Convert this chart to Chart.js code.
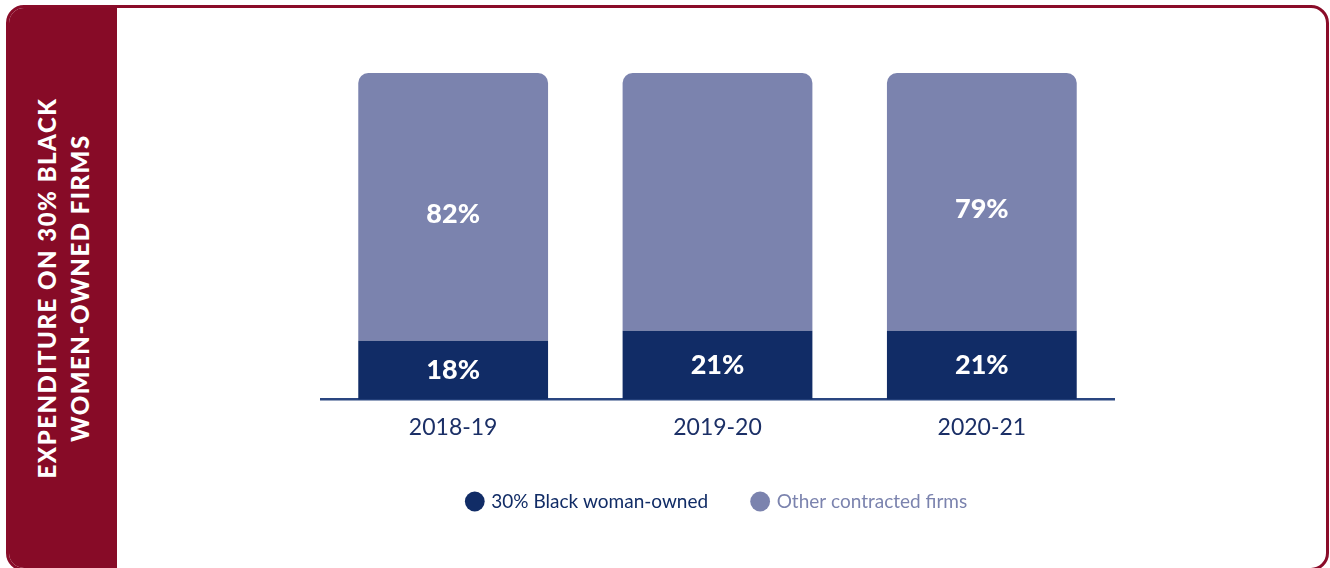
<!DOCTYPE html>
<html>
<head>
<meta charset="utf-8">
<script src="https://cdn.jsdelivr.net/npm/chart.js@4"></script>
<style>
    body { margin: 0; background: #fff; font-family: Lato, sans-serif; }
    #card {
        position: absolute; left: 6px; top: 5px; width: 1317px; height: 560px;
        border: 3px solid #8a0c29; border-radius: 18px; overflow: hidden; background: #fff;
    }
    #side {
        position: absolute; left: 0; top: 0; width: 108px; height: 100%; background: #870b27;
    }
    #side div {
        position: absolute; left: 50%; top: 50%; width: 500px;
        transform: translate(-50%, -50%) rotate(-90deg);
        color: #fff; font-weight: 900; font-size: 24px; line-height: 33px;
        letter-spacing: 1.5px; text-align: center;
    }
    #wrap { position: absolute; left: 0; top: 0; width: 1330px; height: 568px; }
</style>
</head>
<body>
<div id="card"><div id="side"><div>EXPENDITURE ON 30% BLACK<br>WOMEN-OWNED FIRMS</div></div></div>
<div id="wrap"><canvas id="chart"></canvas></div>
<script>
// Chart data
const years = ['2018-19', '2019-20', '2020-21'];
const blackOwned = [18, 21, 21];
const otherFirms = [82, 79, 79];
// which segment labels are printed on the bars
const blackLabels = ['18%', '21%', '21%'];
const otherLabels = ['82%', '', '79%'];

const navy = '#112c66';
const lavender = '#7b83ae';

// simple inline label plugin
const barLabels = {
    id: 'barLabels',
    afterDatasetsDraw(chart) {
        const ctx = chart.ctx;
        ctx.save();
        ctx.fillStyle = '#fff';
        ctx.font = '900 27px Lato';
        ctx.textAlign = 'center';
        ctx.textBaseline = 'middle';
        chart.data.datasets.forEach((ds, i) => {
            chart.getDatasetMeta(i).data.forEach((bar, j) => {
                const txt = ds.labelText[j];
                if (!txt) return;
                const mid = (bar.y + bar.base) / 2;
                ctx.fillText(txt, bar.x, mid + (i === 1 ? 7 : 0));
            });
        });
        ctx.restore();
    }
};

new Chart(document.getElementById('chart').getContext('2d'), {
    type: 'bar',
    data: {
        labels: years,
        datasets: [{
            label: '30% Black woman-owned',
            data: blackOwned,
            labelText: blackLabels,
            backgroundColor: navy,
            borderWidth: 0,
            categoryPercentage: 0.718,
            barPercentage: 1
        }, {
            label: 'Other contracted firms',
            data: otherFirms,
            labelText: otherLabels,
            backgroundColor: lavender,
            borderWidth: 0,
            borderRadius: { topLeft: 10, topRight: 10, bottomLeft: 0, bottomRight: 0 },
            borderSkipped: false,
            categoryPercentage: 0.718,
            barPercentage: 1
        }]
    },
    options: {
        responsive: true,
        maintainAspectRatio: false,
        animation: false,
        layout: {
            padding: { left: 321, right: 216, top: 73, bottom: 47 }
        },
        plugins: {
            legend: {
                position: 'bottom',
                labels: {
                    usePointStyle: true,
                    pointStyle: 'circle',
                    boxWidth: 14,
                    boxHeight: 14,
                    padding: 45,
                    font: { family: 'Lato', size: 19 },
                    generateLabels(chart) {
                        return chart.data.datasets.map((ds, i) => ({
                            text: ds.label,
                            fillStyle: ds.backgroundColor,
                            strokeStyle: ds.backgroundColor,
                            lineWidth: 0,
                            pointStyle: 'circle',
                            fontColor: i === 0 ? navy : lavender,
                            datasetIndex: i
                        }));
                    }
                }
            },
            tooltip: { enabled: false }
        },
        scales: {
            x: {
                stacked: true,
                grid: { display: false },
                border: { display: true, color: '#2a4680', width: 2.5 },
                ticks: {
                    color: '#1b2f66',
                    padding: 6,
                    font: { family: 'Lato', size: 23 }
                }
            },
            y: {
                stacked: true,
                display: false,
                min: 0,
                max: 100
            }
        }
    },
    plugins: [barLabels]
});
</script>
</body>
</html>
